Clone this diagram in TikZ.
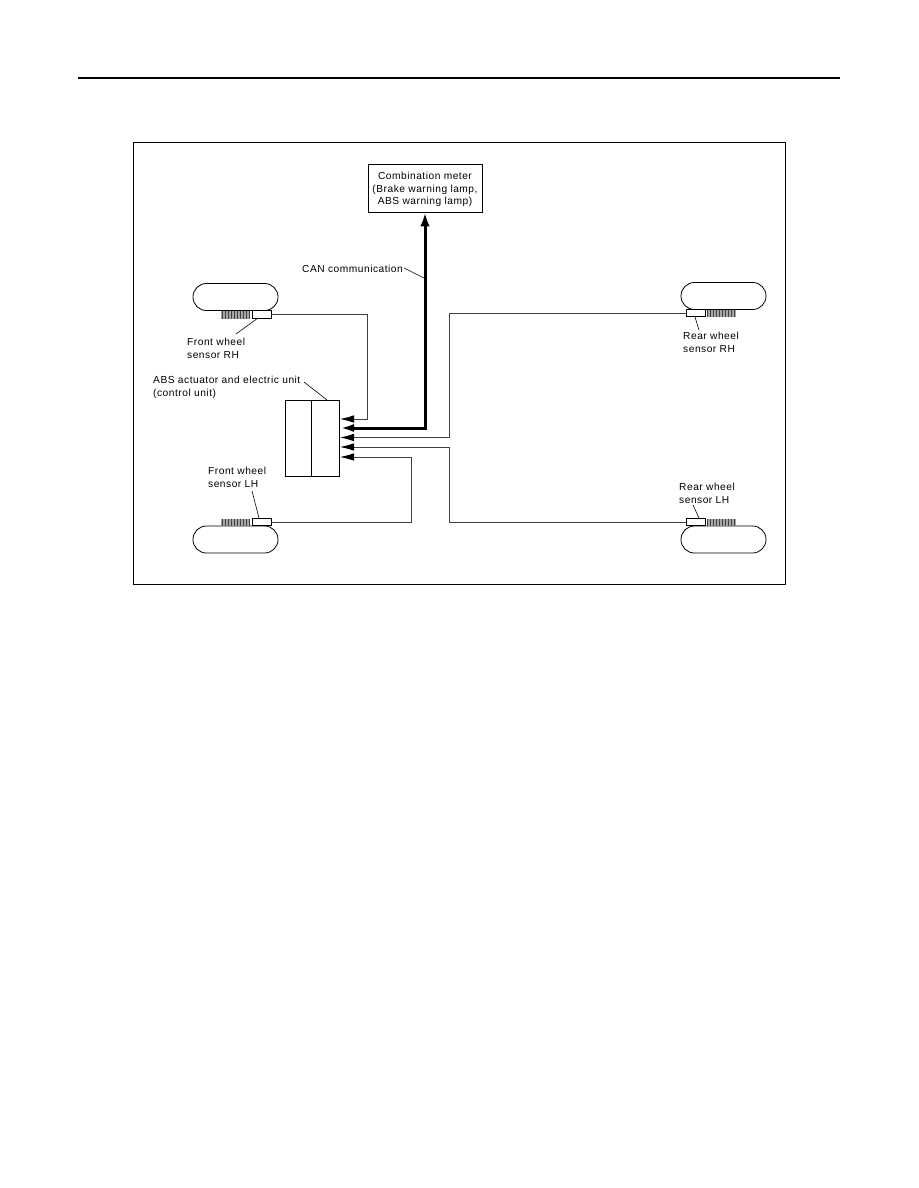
\documentclass[tikz,border=0pt]{standalone}
\usepackage{fontspec}
\setmainfont[LetterSpace=5]{Liberation Sans}
\usetikzlibrary{arrows.meta}
\tikzset{
    wheelbox/.style={draw, line width=0.8pt, rounded corners=13.4pt, minimum width=85pt, minimum height=27pt, inner sep=0pt},
    sensorbox/.style={draw, line width=0.8pt, fill=white, minimum width=19pt, minimum height=7.5pt, inner sep=0pt},
    labeltext/.style={font=\fontsize{10.2pt}{12.8pt}\selectfont, align=left, anchor=west, inner sep=0pt},
    wire/.style={line width=0.8pt, draw=black!75},
    wirearrow/.style={wire, -{Latex[length=14pt,width=7.5pt,black]}},
    leader/.style={line width=0.6pt}
}
\newcommand{\geargrid}[2]{%
    \fill[black!35] (#1,#2) rectangle ++(29,7.5);
    \foreach \k in {0,3,...,27} {\draw[line width=1pt, black!75] (#1+\k+1,#2) -- ++(0,7.5);}
}
\begin{document}
\begin{tikzpicture}[x=1pt,y=-1pt]
    \useasboundingbox (0,0) rectangle (918,1188);
    \coordinate (ruleL) at (78,78);
    \coordinate (ruleR) at (840,78);
    \draw[line width=2pt] (ruleL) -- (ruleR);
    \draw[line width=1pt] (133,142) rectangle (785,584);

    \node[draw, line width=0.8pt, minimum width=114pt, minimum height=48pt, inner sep=0pt] (meter) at (425,188) {};
    \node[labeltext, anchor=center, align=center] (labelMeter) at (425,189.5) {Combination meter\\(Brake warning lamp,\\ABS warning lamp)};

    % wheels
    \node[wheelbox] (wheelFR) at (235.5,297) {};
    \node[wheelbox] (wheelFL) at (235.5,539.5) {};
    \node[wheelbox] (wheelRR) at (723.5,296) {};
    \node[wheelbox] (wheelRL) at (723.5,539.5) {};

    \geargrid{221}{311}
    \geargrid{221}{518.5}
    \geargrid{706.5}{309.5}
    \geargrid{706.5}{518.5}

    \node[sensorbox] (sensorFR) at (261.5,314.5) {};
    \node[sensorbox] (sensorFL) at (261.5,522) {};
    \node[sensorbox] (sensorRR) at (695.5,313) {};
    \node[sensorbox] (sensorRL) at (695.5,522) {};

    % control unit
    \node[draw, line width=0.8pt, minimum width=54pt, minimum height=76pt, inner sep=0pt] (ecu) at (312,438) {};
    \draw[line width=0.8pt] (311,400) -- (311,476);

    % labels
    \node[labeltext] (labelCAN) at (302,268.5) {CAN communication};
    \node[labeltext] (labelFR) at (187,348) {Front wheel\\sensor RH};
    \node[labeltext] (labelECU) at (153,387) {ABS actuator and electric unit\\(control unit)};
    \node[labeltext] (labelFL) at (208,477) {Front wheel\\sensor LH};
    \node[labeltext] (labelRR) at (683,342) {Rear wheel\\sensor RH};
    \node[labeltext] (labelRL) at (679,493) {Rear wheel\\sensor LH};

    % leader lines
    \coordinate (leadCAN) at (424,278);
    \draw[leader] (404,268) -- (leadCAN);
    \draw[leader] (236,334) -- (258,318);
    \draw[leader] (304,382) -- (327,400);
    \draw[leader] (252,491) -- (259,518);
    \draw[leader] (699,330) -- (695,317);
    \draw[leader] (693,505) -- (699,518);

    % wires into the unit
    \coordinate (tipA) at (340,419);
    \coordinate (tipB) at (340,428);
    \coordinate (tipC) at (340,437.5);
    \coordinate (tipD) at (340,447);
    \coordinate (tipE) at (340,457);
    \draw[wirearrow] (sensorFR.east) -- (367,314.5) -- (367,419) -- (tipA);
    \draw[wirearrow] (sensorRR.west) -- (449,313) -- (449,437.5) -- (tipC);
    \draw[wirearrow] (sensorRL.west) -- (449,522) -- (449,447) -- (tipD);
    \draw[wirearrow] (sensorFL.east) -- (411,522) -- (411,457) -- (tipE);

    % CAN line, both ways
    \coordinate (canBend) at (425,428);
    \draw[line width=3pt, line cap=rect, -{Latex[length=14pt,width=9.5pt]}] (canBend) -- (meter.south);
    \draw[line width=3pt, line cap=rect, -{Latex[length=14pt,width=8pt]}] (canBend) -- (tipB);
\end{tikzpicture}
\end{document}
